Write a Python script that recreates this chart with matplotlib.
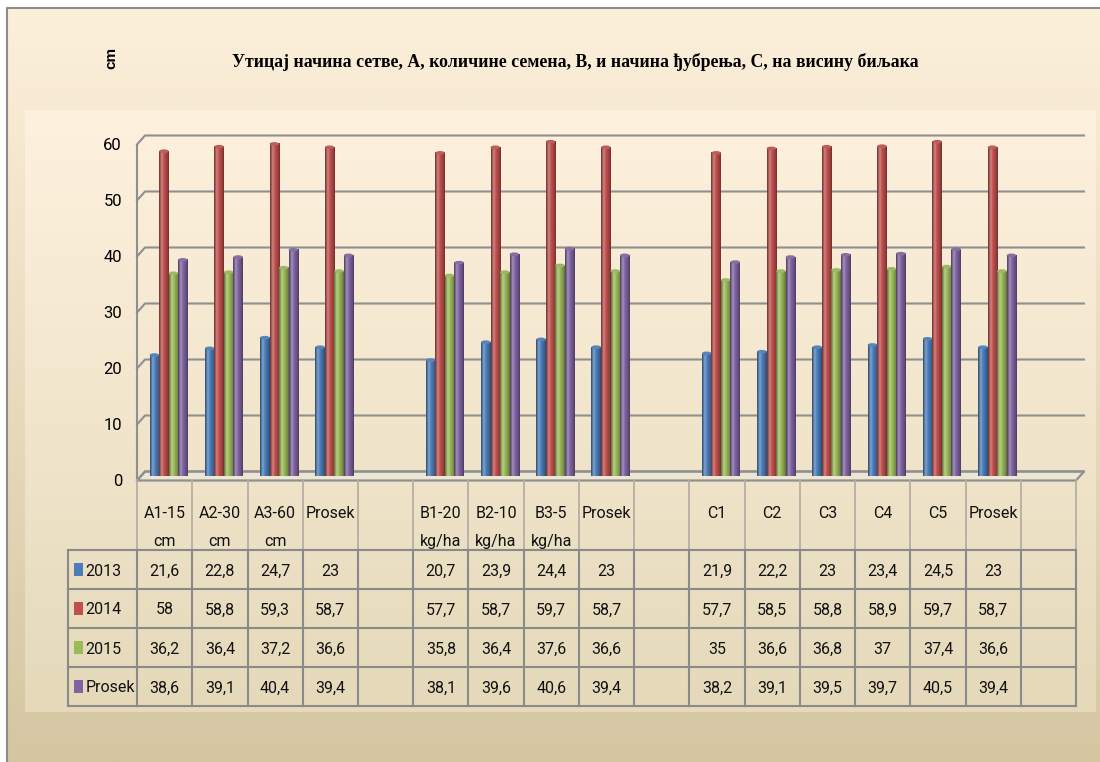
import numpy as np
import matplotlib
matplotlib.use('Agg')
import matplotlib.pyplot as plt
import matplotlib.transforms as mtransforms
from matplotlib.patches import Ellipse, Rectangle, Polygon
from matplotlib.lines import Line2D

categories = ['A1-15\ncm', 'A2-30\ncm', 'A3-60\ncm', 'Prosek', '',
              'B1-20\nkg/ha', 'B2-10\nkg/ha', 'B3-5\nkg/ha', 'Prosek', '',
              'C1', 'C2', 'C3', 'C4', 'C5', 'Prosek', '']
series_names = ['2013', '2014', '2015', 'Prosek']
v2013 = [21.6, 22.8, 24.7, 23, None, 20.7, 23.9, 24.4, 23, None,
         21.9, 22.2, 23, 23.4, 24.5, 23, None]
v2014 = [58, 58.8, 59.3, 58.7, None, 57.7, 58.7, 59.7, 58.7, None,
         57.7, 58.5, 58.8, 58.9, 59.7, 58.7, None]
v2015 = [36.2, 36.4, 37.2, 36.6, None, 35.8, 36.4, 37.6, 36.6, None,
         35, 36.6, 36.8, 37, 37.4, 36.6, None]
vprosek = [38.6, 39.1, 40.4, 39.4, None, 38.1, 39.6, 40.6, 39.4, None,
           38.2, 39.1, 39.5, 39.7, 40.5, 39.4, None]
yticks = [0, 10, 20, 30, 40, 50, 60]
title = 'Утицај начина сетве, А, количине семена, В, и начина ђубрења, С, на висину биљака'

colors = ['#4a7ebb', '#c0504d', '#9bbb59', '#8064a2']
all_vals = [v2013, v2014, v2015, vprosek]

W, H = 1100, 762
fig = plt.figure(figsize=(W / 100, H / 100), dpi=100)
fig.patch.set_facecolor('white')

sans = ['Roboto', 'DejaVu Sans']

def fbox(x0, y0, x1, y1):
    # pixel box (top-left origin) -> figure fraction rect
    return [x0 / W, 1 - y1 / H, (x1 - x0) / W, (y1 - y0) / H]

# background: chart area + plot area gradients
bg = fig.add_axes([0, 0, 1, 1], zorder=-10)
bg.axis('off')

def vgrad(top, bottom, n=256):
    t = np.linspace(0, 1, n)[:, None]
    top = np.array(top) / 255.0
    bottom = np.array(bottom) / 255.0
    g = top[None, :] * (1 - t) + bottom[None, :] * t
    return g[:, None, :]

bg.imshow(vgrad((253, 240, 219), (213, 198, 162)), extent=(7, W, H, 8),
          aspect='auto', interpolation='bilinear')
bg.imshow(vgrad((254, 242, 223), (229, 217, 186)), extent=(25, 1096, 712, 110),
          aspect='auto', interpolation='bilinear')
bg.plot([7, 7, W], [H, 8, 8], color='#8c8c8c', lw=1.5)
bg.set_xlim(0, W)
bg.set_ylim(H, 0)

# main 3d-ish column axes (middle depth)
ax = fig.add_axes(fbox(141, 140, 1080, 476), zorder=0)
ax.patch.set_visible(False)
ax.axis('off')
ncat = len(categories)
ax.set_xlim(0, ncat)
ax.set_ylim(0, 60)

DX, DY = 4.0, 4.5
ident = mtransforms.IdentityTransform()

def disp(x, v, d):
    p = ax.transData.transform((x, v))
    return p[0] + DX * d, p[1] + DY * d

grid_c = '#8f8f8f'
# floor
fl = [disp(0, 0, -1), disp(ncat, 0, -1), disp(ncat, 0, 1), disp(0, 0, 1)]
ax.add_patch(Polygon(fl, closed=True, transform=ident, facecolor='#ece6d2',
                     edgecolor=grid_c, lw=1.6, clip_on=False, zorder=0.4))
# gridlines on the back wall with small diagonals on the side wall
for v in yticks:
    a = disp(0, v, -1)
    b = disp(0, v, 1)
    c = disp(ncat, v, 1)
    ax.add_line(Line2D([a[0], b[0], c[0]], [a[1], b[1], c[1]], transform=ident,
                       color=grid_c, lw=1.5, clip_on=False, zorder=0.5))
a = disp(0, 0, -1)
b = disp(0, 60, -1)
ax.add_line(Line2D([a[0], b[0]], [a[1], b[1]], transform=ident,
                   color=grid_c, lw=1.5, clip_on=False, zorder=0.5))

# y tick labels on front plane
lab_tr = mtransforms.offset_copy(ax.transData, fig=fig, x=-19, y=-DY - 6, units='dots')
for v in yticks:
    ax.text(0, v, str(v), transform=lab_tr, ha='right', va='baseline',
            fontsize=12, family=sans)

# cylinders
def shade(col, n=24):
    c = np.array(matplotlib.colors.to_rgb(col))
    stops = [(0.0, c * 0.62), (0.28, c + (1 - c) * 0.30), (0.5, c),
             (0.85, c * 0.78), (1.0, c * 0.6)]
    xs = np.linspace(0, 1, n)
    out = np.zeros((n, 3))
    for k in range(3):
        out[:, k] = np.interp(xs, [s[0] for s in stops], [s[1][k] for s in stops])
    return np.clip(out, 0, 1)[None, :, :]

bw = 0.172
cap_h = 0.65
for j, vals in enumerate(all_vals):
    img = shade(colors[j])
    cc = np.array(matplotlib.colors.to_rgb(colors[j]))
    for i, h in enumerate(vals):
        if h is None:
            continue
        xc = i + 0.5 + (j - 1.5) * bw
        ax.imshow(img, extent=(xc - bw / 2, xc + bw / 2, 0, h), aspect='auto',
                  interpolation='bilinear', zorder=2 + j * 0.01, clip_on=False)
        ax.add_patch(Ellipse((xc, h), bw, cap_h, facecolor=cc * 0.85 + 0.1,
                             edgecolor='none', zorder=2.005 + j * 0.01, clip_on=False))
ax.set_xlim(0, ncat)
ax.set_ylim(0, 60)

# data table
tb = fig.add_axes(fbox(68, 480, 1076, 706), zorder=1)
tb.patch.set_visible(False)
tb.axis('off')
lab_w = 1.25
hdr_h, row_h = 70, 39
tb.set_xlim(-lab_w, ncat)
tb.set_ylim(hdr_h + 4 * row_h, 0)
tfont = dict(fontsize=11.5, family=sans, color='#111111')
line_c = '#8a8a8a'
for k in range(ncat + 1):
    tb.plot([k, k], [0, hdr_h], color='#b4b0a4', lw=1.3, clip_on=False)
    tb.plot([k, k], [hdr_h, hdr_h + 4 * row_h], color=line_c, lw=1.5, clip_on=False)
tb.plot([-lab_w, -lab_w], [hdr_h, hdr_h + 4 * row_h], color=line_c, lw=1.5, clip_on=False)
for r in range(5):
    y = hdr_h + r * row_h
    tb.plot([-lab_w, ncat], [y, y], color=line_c, lw=1.5, clip_on=False)

for i, cat in enumerate(categories):
    for n, part in enumerate(cat.split('\n')):
        if part:
            tb.text(i + 0.5, 38 + n * 28, part, ha='center', va='baseline', **tfont)

for r, vals in enumerate(all_vals):
    yc = hdr_h + r * row_h + row_h / 2
    tb.add_patch(Rectangle((-lab_w + 0.11, yc - 7), 0.163, 13,
                           facecolor=colors[r], edgecolor='none'))
    tb.text(-lab_w + 0.32, yc + 6, series_names[r], ha='left', va='baseline',
            fontsize=11.5, family=sans, color='#111111')
    for i, v in enumerate(vals):
        if v is None:
            continue
        tb.text(i + 0.5, yc + 6, f'{v:g}'.replace('.', ','), ha='center',
                va='baseline', **tfont)

# titles
fig.text(575 / W, 1 - 62 / H, title, ha='center', va='center', fontsize=12.8,
         fontweight='bold', family=['Liberation Serif', 'DejaVu Serif'])
fig.text(111 / W, 1 - 58 / H, 'cm', ha='center', va='center', rotation=90,
         fontsize=11, fontweight='bold', family=['Liberation Sans', 'DejaVu Sans'])

fig.savefig('out.png', dpi=100)
